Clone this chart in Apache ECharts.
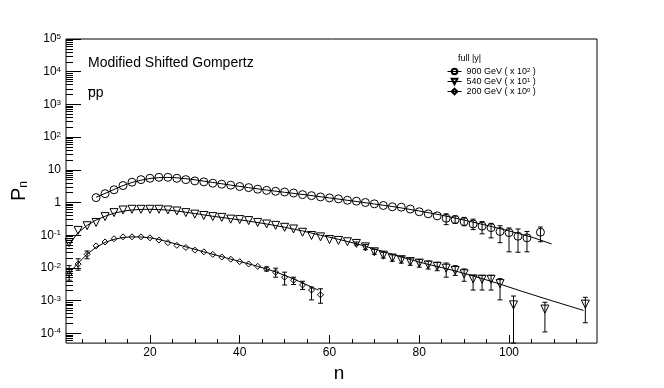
<!DOCTYPE html>
<html>
<head>
<meta charset="utf-8">
<script src="https://cdn.jsdelivr.net/npm/echarts@6/dist/echarts.min.js"></script>
<style>
  html, body { margin: 0; padding: 0; background: #fff; }
  #chart { width: 664px; height: 388px; }
</style>
</head>
<body>
<div id="chart"></div>
<script>
// 900 GeV ( x 10^2 )
var n900 = [8, 10, 12, 14, 16, 18, 20, 22, 24, 26, 28, 30, 32, 34, 36, 38, 40, 42, 44, 46,
  48, 50, 52, 54, 56, 58, 60, 62, 64, 66, 68, 70, 72, 74, 76, 78, 80, 82, 84, 86,
  88, 90, 92, 94, 96, 98, 100, 102, 104, 107];
var p900 = [1.41, 1.86, 2.45, 3.3, 4.17, 5.0, 5.5, 5.9, 5.9, 5.5, 5.0, 4.57, 4.27, 3.89, 3.63, 3.39, 3.09, 2.85, 2.55, 2.35,
  2.2, 2.09, 1.95, 1.74, 1.62, 1.48, 1.38, 1.29, 1.17, 1.10, 1.0, 0.91, 0.81, 0.74, 0.72, 0.63, 0.52, 0.45, 0.39, 0.33,
  0.30, 0.26, 0.22, 0.19, 0.17, 0.13, 0.12, 0.093, 0.083, 0.123];
var errN900 = [86, 88, 90, 92, 94, 96, 98, 100, 102, 104, 107];
var errLo900 = [0.21, 0.23, 0.195, 0.148, 0.11, 0.083, 0.059, 0.031, 0.030, 0.031, 0.063];
var errHi900 = [0.45, 0.39, 0.35, 0.31, 0.26, 0.23, 0.195, 0.166, 0.155, 0.13, 0.178];
var fit900 = [[8, 1.45], [10, 1.9], [12, 2.5], [14, 3.3], [16, 4.1], [18, 4.8], [20, 5.4], [22, 5.75], [24, 5.85],
  [26, 5.7], [28, 5.35], [30, 4.95], [34, 4.1], [38, 3.4], [42, 2.85], [46, 2.4], [50, 2.05], [55, 1.7], [60, 1.38],
  [65, 1.12], [70, 0.9], [75, 0.72], [80, 0.55], [85, 0.41], [90, 0.29], [95, 0.2], [100, 0.135], [105, 0.088], [109.5, 0.054]];

// 540 GeV ( x 10^1 )
var n540 = [2, 4, 6, 8, 10, 12, 14, 16, 18, 20, 22, 24, 26, 28, 30, 32, 34, 36, 38, 40,
  42, 44, 46, 48, 50, 52, 54, 56, 58, 60, 62, 64, 66, 68, 70, 72, 74, 76, 78, 80,
  82, 84, 86, 88, 90, 92, 94, 96, 98, 101, 108, 117];
var p540 = [0.059, 0.14, 0.195, 0.245, 0.37, 0.49, 0.59, 0.62, 0.62, 0.62, 0.62, 0.59, 0.55, 0.49, 0.44, 0.40, 0.37, 0.35, 0.31, 0.30,
  0.28, 0.245, 0.22, 0.20, 0.174, 0.155, 0.123, 0.098, 0.089, 0.074, 0.069, 0.063, 0.056, 0.044, 0.031, 0.0245, 0.020, 0.0178, 0.0155, 0.0140,
  0.0123, 0.0112, 0.0098, 0.0083, 0.0066, 0.0046, 0.0045, 0.0045, 0.0033, 0.00074, 0.00055, 0.00078];
var errN540 = [66, 68, 70, 72, 74, 76, 78, 80, 82, 84, 86, 88, 90, 92, 94, 96, 98, 101, 108, 117];
var errLo540 = [0.050, 0.036, 0.026, 0.020, 0.016, 0.014, 0.012, 0.0105, 0.0092, 0.0082, 0.0052, 0.0059, 0.0039, 0.0021, 0.0021, 0.0021, 0.00105, 0.00001, 0.00011, 0.00021];
var errHi540 = [0.062, 0.052, 0.037, 0.030, 0.025, 0.022, 0.020, 0.018, 0.016, 0.0148, 0.0141, 0.0117, 0.0093, 0.0059, 0.0059, 0.0059, 0.0047, 0.00138, 0.00089, 0.00126];
var fit540 = [[2, 0.052], [4, 0.12], [6, 0.2], [8, 0.29], [10, 0.38], [12, 0.47], [14, 0.54], [16, 0.59], [18, 0.615],
  [20, 0.62], [22, 0.61], [24, 0.585], [26, 0.55], [30, 0.46], [34, 0.38], [38, 0.32], [42, 0.27], [46, 0.22],
  [50, 0.175], [54, 0.135], [58, 0.1], [62, 0.075], [66, 0.055], [70, 0.038], [74, 0.026], [78, 0.018], [82, 0.0128],
  [86, 0.0095], [90, 0.0068], [94, 0.0047], [98, 0.0032], [102, 0.0021], [108, 0.00115], [116.6, 0.0005]];

// 200 GeV ( x 10^0 )
var n200 = [2, 4, 6, 8, 10, 12, 14, 16, 18, 20, 22, 24, 26, 28, 30, 32, 34, 36, 38, 40,
  42, 44, 46, 48, 50, 52, 54, 56, 58];
var p200 = [0.0066, 0.013, 0.026, 0.047, 0.062, 0.078, 0.089, 0.089, 0.089, 0.083, 0.071, 0.059, 0.049, 0.042, 0.035, 0.031, 0.026, 0.0215, 0.0185, 0.0155,
  0.0132, 0.0112, 0.0093, 0.0074, 0.0052, 0.0042, 0.0030, 0.0021, 0.0015];
var errN200 = [2, 4, 6, 46, 48, 50, 52, 54, 56, 58];
var errLo200 = [0.0042, 0.0085, 0.019, 0.0080, 0.0052, 0.0030, 0.0031, 0.0022, 0.00105, 0.00083];
var errHi200 = [0.0117, 0.019, 0.033, 0.0107, 0.0098, 0.0074, 0.0052, 0.0039, 0.0026, 0.0023];
var fit200 = [[2, 0.0068], [4, 0.014], [6, 0.026], [8, 0.043], [10, 0.06], [12, 0.075], [14, 0.085], [16, 0.089],
  [18, 0.088], [20, 0.083], [22, 0.074], [24, 0.063], [28, 0.044], [32, 0.031], [36, 0.022], [40, 0.0157],
  [44, 0.0112], [48, 0.0076], [52, 0.0046], [55, 0.003], [57.5, 0.0021]];

var seriesNames = ['900 GeV', '540 GeV', '200 GeV'];
var scaleExp = [2, 1, 0];

// 坐标轴刻度
var xLabels = [20, 40, 60, 80, 100];
var xMinor = [5, 10, 15, 25, 30, 35, 45, 50, 55, 65, 70, 75, 85, 90, 95, 105, 110, 115];
var yDecades = [-4, -3, -2, -1, 0, 1, 2, 3, 4, 5];

var FONT = '"Liberation Sans", Arial, Helvetica, sans-serif';
var X_MIN = 1.3, X_MAX = 119.6;
var Y_MIN = -4.3, Y_MAX = 5;   // log10

function lg(v) { return Math.log10(v); }
function pts(ns, vs) {
  return ns.map(function (x, i) { return [x, lg(vs[i])]; });
}
function fitPts(arr) {
  return arr.map(function (d) { return [d[0], lg(d[1])]; });
}
function errPts(ns, lo, hi) {
  return ns.map(function (x, i) { return [x, lg(lo[i]), lg(hi[i])]; });
}

// 对数次刻度 2..9
var yMinor = [];
yDecades.concat([-5]).forEach(function (d) {
  for (var k = 2; k <= 9; k++) {
    var v = d + Math.log10(k);
    if (v > Y_MIN && v < Y_MAX) yMinor.push(v);
  }
});

function markerSeries(name, data, symbol, size, rotate) {
  return {
    name: name,
    type: 'line',
    data: data,
    symbol: symbol,
    symbolSize: size,
    symbolRotate: rotate || 0,
    showSymbol: true,
    lineStyle: { opacity: 0 },
    itemStyle: { color: 'rgba(255,255,255,0)', borderColor: '#000', borderWidth: 1 },
    z: 4,
    silent: true
  };
}

function fitSeries(data) {
  return {
    type: 'line',
    data: data,
    symbol: 'none',
    lineStyle: { color: '#000', width: 1 },
    z: 2,
    silent: true
  };
}

function errSeries(data) {
  return {
    type: 'custom',
    data: data,
    encode: { x: 0, y: 1 },
    z: 3,
    silent: true,
    renderItem: function (params, api) {
      var x = api.value(0);
      var lo = Math.max(api.value(1), Y_MIN);
      var hi = Math.min(api.value(2), Y_MAX);
      var a = api.coord([x, lo]);
      var b = api.coord([x, hi]);
      var st = { stroke: '#000', lineWidth: 1 };
      return {
        type: 'group',
        children: [
          { type: 'line', shape: { x1: a[0], y1: a[1], x2: b[0], y2: b[1] }, style: st },
          { type: 'line', shape: { x1: a[0] - 2.5, y1: a[1], x2: a[0] + 2.5, y2: a[1] }, style: st },
          { type: 'line', shape: { x1: b[0] - 2.5, y1: b[1], x2: b[0] + 2.5, y2: b[1] }, style: st }
        ]
      };
    }
  };
}

var chart = echarts.init(document.getElementById('chart'));

var option = {
  animation: false,
  backgroundColor: '#fff',
  textStyle: { fontFamily: FONT, color: '#000' },
  grid: {
    left: 66, right: 67, top: 39, bottom: 39,
    show: true, borderColor: '#000', borderWidth: 1, backgroundColor: 'transparent'
  },
  xAxis: [
    {
      type: 'value', position: 'bottom', min: X_MIN, max: X_MAX,
      name: 'n', nameLocation: 'middle', nameGap: 14,
      nameTextStyle: { fontSize: 19, color: '#000', fontFamily: FONT, padding: [0, 0, 0, 15] },
      axisLine: { show: false, onZero: false },
      splitLine: { show: false },
      axisTick: { inside: true, length: 8, customValues: xLabels, lineStyle: { color: '#000' } },
      axisLabel: { customValues: xLabels, fontSize: 12, color: '#000', margin: 4, fontFamily: FONT }
    },
    {
      type: 'value', position: 'bottom', min: X_MIN, max: X_MAX,
      axisLine: { show: false, onZero: false },
      splitLine: { show: false },
      axisTick: { inside: true, length: 4, customValues: xMinor, lineStyle: { color: '#000' } },
      axisLabel: { show: false }
    }
  ],
  yAxis: [
    {
      type: 'value', position: 'left', min: Y_MIN, max: Y_MAX,
      name: '{p|P}{s|n}', nameLocation: 'middle', nameRotate: 90, nameGap: 34,
      nameTextStyle: {
        fontFamily: FONT, color: '#000',
        rich: {
          p: { fontSize: 20, fontFamily: FONT, color: '#000' },
          s: { fontSize: 12, fontFamily: FONT, color: '#000', verticalAlign: 'bottom' }
        }
      },
      axisLine: { show: false, onZero: false },
      splitLine: { show: false },
      axisTick: { inside: true, length: 15, customValues: yDecades, lineStyle: { color: '#000' } },
      axisLabel: {
        customValues: yDecades, margin: 5, color: '#000',
        formatter: function (v) {
          if (v === 0) return '{b|1}';
          if (v === 1) return '{b|10}';
          return '{b|10}{sup|' + v + '}';
        },
        rich: {
          b: { fontSize: 12, fontFamily: FONT, color: '#000' },
          sup: { fontSize: 8, fontFamily: FONT, color: '#000', verticalAlign: 'top' }
        }
      }
    },
    {
      type: 'value', position: 'left', min: Y_MIN, max: Y_MAX,
      axisLine: { show: false, onZero: false },
      splitLine: { show: false },
      axisTick: { inside: true, length: 7, customValues: yMinor, lineStyle: { color: '#000' } },
      axisLabel: { show: false }
    }
  ],
  legend: {
    orient: 'vertical', left: 442, top: 62,
    itemWidth: 14, itemHeight: 7, itemGap: 1,
    selectedMode: false,
    data: seriesNames,
    lineStyle: { color: '#000', width: 1, opacity: 1, type: 'solid' },
    formatter: function (name) {
      var i = seriesNames.indexOf(name);
      return name + ' ( x 10{sup|' + scaleExp[i] + '} )';
    },
    textStyle: {
      fontSize: 9, color: '#000', fontFamily: FONT,
      rich: { sup: { fontSize: 6, fontFamily: FONT, color: '#000', verticalAlign: 'top' } }
    }
  },
  graphic: [
    { type: 'text', left: 88, top: 56, style: { text: 'Modified Shifted Gompertz', fontSize: 14, fontFamily: FONT, fill: '#000' } },
    { type: 'text', left: 88, top: 86, style: { text: 'pp', fontSize: 14, fontFamily: FONT, fill: '#000' } },
    { type: 'line', shape: { x1: 88, y1: 89.5, x2: 95, y2: 89.5 }, style: { stroke: '#000', lineWidth: 1 } },
    { type: 'text', left: 458, top: 54, style: { text: 'full |y|', fontSize: 9, fontFamily: FONT, fill: '#000' } }
  ],
  series: [
    fitSeries(fitPts(fit900)),
    fitSeries(fitPts(fit540)),
    fitSeries(fitPts(fit200)),
    errSeries(errPts(errN900, errLo900, errHi900)),
    errSeries(errPts(errN540, errLo540, errHi540)),
    errSeries(errPts(errN200, errLo200, errHi200)),
    markerSeries(seriesNames[0], pts(n900, p900), 'circle', 8),
    markerSeries(seriesNames[1], pts(n540, p540), 'triangle', 8, 180),
    markerSeries(seriesNames[2], pts(n200, p200), 'diamond', 6)
  ]
};

chart.setOption(option);
</script>
</body>
</html>
